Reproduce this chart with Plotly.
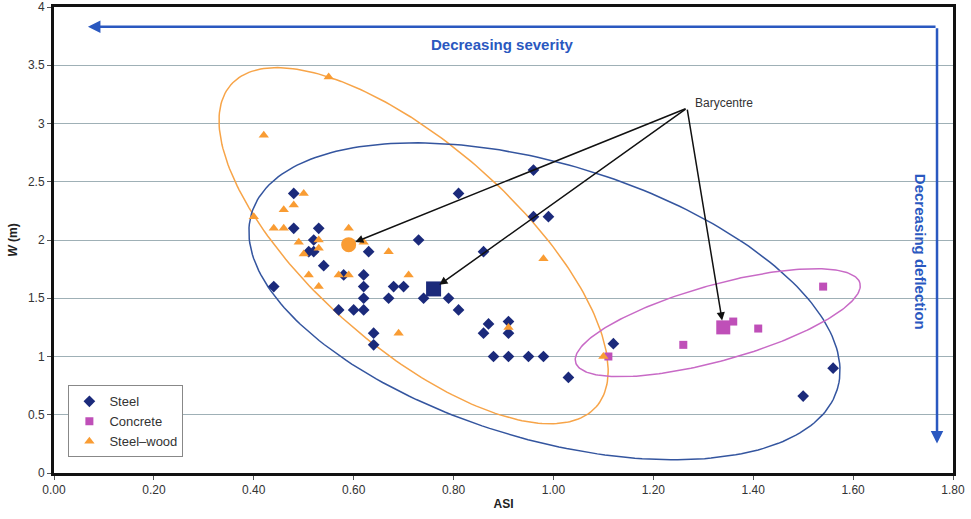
import numpy as np
import plotly.graph_objects as go

# ---------------- data ----------------
steel_asi = [0.48, 0.48, 0.53, 0.52, 0.51, 0.52, 0.63, 0.73, 0.54, 0.58, 0.62, 0.44,
             0.62, 0.68, 0.70, 0.62, 0.67, 0.74, 0.79, 0.57, 0.60, 0.62, 0.81, 0.64,
             0.64, 0.96, 0.81, 0.96, 0.99, 0.86, 0.87, 0.91, 0.86, 0.91, 0.88, 0.91,
             0.95, 0.98, 1.03, 1.12, 1.56, 1.50]
steel_w = [2.40, 2.10, 2.10, 2.00, 1.90, 1.90, 1.90, 2.00, 1.78, 1.70, 1.70, 1.60,
           1.60, 1.60, 1.60, 1.50, 1.50, 1.50, 1.50, 1.40, 1.40, 1.40, 1.40, 1.20,
           1.10, 2.60, 2.40, 2.20, 2.20, 1.90, 1.28, 1.30, 1.20, 1.20, 1.00, 1.00,
           1.00, 1.00, 0.82, 1.11, 0.90, 0.66]

concrete_asi = [1.54, 1.36, 1.41, 1.26, 1.11]
concrete_w = [1.60, 1.30, 1.24, 1.10, 1.00]

wood_asi = [0.55, 0.42, 0.50, 0.48, 0.46, 0.40, 0.44, 0.46, 0.59, 0.49, 0.53, 0.62,
            0.53, 0.50, 0.67, 0.51, 0.57, 0.59, 0.71, 0.53, 0.69, 0.98, 0.91, 1.10]
wood_w = [3.40, 2.90, 2.40, 2.30, 2.26, 2.20, 2.10, 2.10, 2.10, 1.98, 2.00, 1.98,
          1.93, 1.88, 1.90, 1.70, 1.70, 1.70, 1.70, 1.60, 1.20, 1.84, 1.25, 1.00]

bary_steel = (0.76, 1.58)
bary_concrete = (1.34, 1.25)
bary_wood = (0.59, 1.96)

x_ticks = [0.0, 0.2, 0.4, 0.6, 0.8, 1.0, 1.2, 1.4, 1.6, 1.8]
y_ticks = [0, 0.5, 1, 1.5, 2, 2.5, 3, 3.5, 4]

# ---------------- styling ----------------
NAVY = "#1b2a7b"
MAGENTA = "#bf4fb8"
ORANGE = "#f99c33"
BLUE_TXT = "#2a58c0"
FONT = "Liberation Sans, Arial, sans-serif"

W, H = 971, 519
ML, MR, MT, MB = 54, 18, 7, 46
XS = (W - ML - MR) / 1.8      # px per ASI unit
YS = (H - MT - MB) / 4.0      # px per W unit


def ellipse(cx, cy, a_px, b_px, theta_deg):
    t = np.linspace(0, 2 * np.pi, 241)
    th = np.radians(theta_deg)
    dx = a_px * np.cos(th) * np.cos(t) - b_px * np.sin(th) * np.sin(t)
    dy = a_px * np.sin(th) * np.cos(t) + b_px * np.cos(th) * np.sin(t)
    return cx + dx / XS, cy - dy / YS


fig = go.Figure()

# ellipses
for (cx, cy, a, b, th, col) in [
    (0.720, 1.951, 243.5, 101.4, 41.4, "#f7a448"),
    (0.982, 1.474, 305.8, 137.7, 16.7, "#34559f"),
    (1.329, 1.290, 147.6, 38.0, -15.6, "#c86ac6"),
]:
    ex, ey = ellipse(cx, cy, a, b, th)
    fig.add_trace(go.Scatter(x=ex, y=ey, mode="lines", line=dict(color=col, width=1.5),
                             hoverinfo="skip", showlegend=False))

fig.add_trace(go.Scatter(x=steel_asi, y=steel_w, mode="markers", name="Steel",
                         marker=dict(symbol="diamond", size=9, color=NAVY)))
fig.add_trace(go.Scatter(x=concrete_asi, y=concrete_w, mode="markers", name="Concrete",
                         marker=dict(symbol="square", size=8, color=MAGENTA)))
fig.add_trace(go.Scatter(x=wood_asi, y=wood_w, mode="markers", name="Steel\u2013wood",
                         marker=dict(symbol="triangle-up", size=9, color=ORANGE)))

# barycentres
fig.add_trace(go.Scatter(x=[bary_steel[0]], y=[bary_steel[1]], mode="markers",
                         marker=dict(symbol="square", size=15, color=NAVY), showlegend=False))
fig.add_trace(go.Scatter(x=[bary_concrete[0]], y=[bary_concrete[1]], mode="markers",
                         marker=dict(symbol="square", size=14, color=MAGENTA), showlegend=False))
fig.add_trace(go.Scatter(x=[bary_wood[0]], y=[bary_wood[1]], mode="markers",
                         marker=dict(symbol="circle", size=15, color=ORANGE), showlegend=False))

annotations = []
# Barycentre label and arrows
tail = (1.2675, 3.132)
annotations.append(dict(x=1.28, y=3.173, xref="x", yref="y", text="Barycentre",
                        showarrow=False, xanchor="left", yanchor="middle",
                        font=dict(family=FONT, size=12, color="#333333")))
for (bx, by) in [bary_wood, bary_steel, bary_concrete]:
    annotations.append(dict(x=bx, y=by, xref="x", yref="y", ax=tail[0], ay=tail[1],
                            axref="x", ayref="y", text="", showarrow=True,
                            arrowhead=2, arrowsize=1.1, arrowwidth=1.5,
                            arrowcolor="#111111", standoff=7))
# Blue direction arrows
corner = (1.768, 3.83)
annotations.append(dict(x=0.068, y=3.83, xref="x", yref="y", ax=corner[0], ay=corner[1],
                        axref="x", ayref="y", text="", showarrow=True, arrowhead=2,
                        arrowsize=1, arrowwidth=2.5, arrowcolor=BLUE_TXT))
annotations.append(dict(x=1.768, y=0.253, xref="x", yref="y", ax=corner[0], ay=corner[1],
                        axref="x", ayref="y", text="", showarrow=True, arrowhead=2,
                        arrowsize=1, arrowwidth=2.5, arrowcolor=BLUE_TXT))
annotations.append(dict(x=0.897, y=3.676, xref="x", yref="y", text="<b>Decreasing severity</b>",
                        showarrow=False, font=dict(family=FONT, size=15, color=BLUE_TXT)))
annotations.append(dict(x=1.734, y=1.898, xref="x", yref="y", text="<b>Decreasing deflection</b>",
                        showarrow=False, textangle=90,
                        font=dict(family=FONT, size=15, color=BLUE_TXT)))

fig.update_layout(
    width=W, height=H,
    margin=dict(l=ML, r=MR, t=MT, b=MB, autoexpand=False),
    paper_bgcolor="white", plot_bgcolor="white",
    font=dict(family=FONT, size=12, color="#333333"),
    showlegend=True,
    legend=dict(x=0.016, y=0.188, xanchor="left", yanchor="top",
                bgcolor="white", bordercolor="#888888", borderwidth=1,
                font=dict(family=FONT, size=13, color="#333333"),
                itemwidth=30, tracegroupgap=0),
    annotations=annotations,
    xaxis=dict(range=[0, 1.8], tickvals=x_ticks, tickformat=".2f", automargin=False,
               ticklabeloverflow="allow",
               showgrid=False, zeroline=False,
               showline=True, linecolor="#111111", linewidth=3, mirror=True,
               ticks="outside", ticklen=4, tickcolor="#555555",
               title=dict(text="<b>ASI</b>", font=dict(size=12, color="#222222"), standoff=4)),
    yaxis=dict(range=[0, 4], tickvals=y_ticks, automargin=False,
               ticklabeloverflow="allow",
               showgrid=True, gridcolor="#9fb0b6", gridwidth=1, zeroline=False,
               showline=True, linecolor="#111111", linewidth=3, mirror=True,
               ticks="outside", ticklen=4, tickcolor="#555555",
               title=dict(text="<b><i>W</i> (m)</b>", font=dict(size=12, color="#222222"), standoff=8)),
)

fig.write_html("out.html", config={"displayModeBar": False},
               post_script="document.body.style.margin='0px';")
